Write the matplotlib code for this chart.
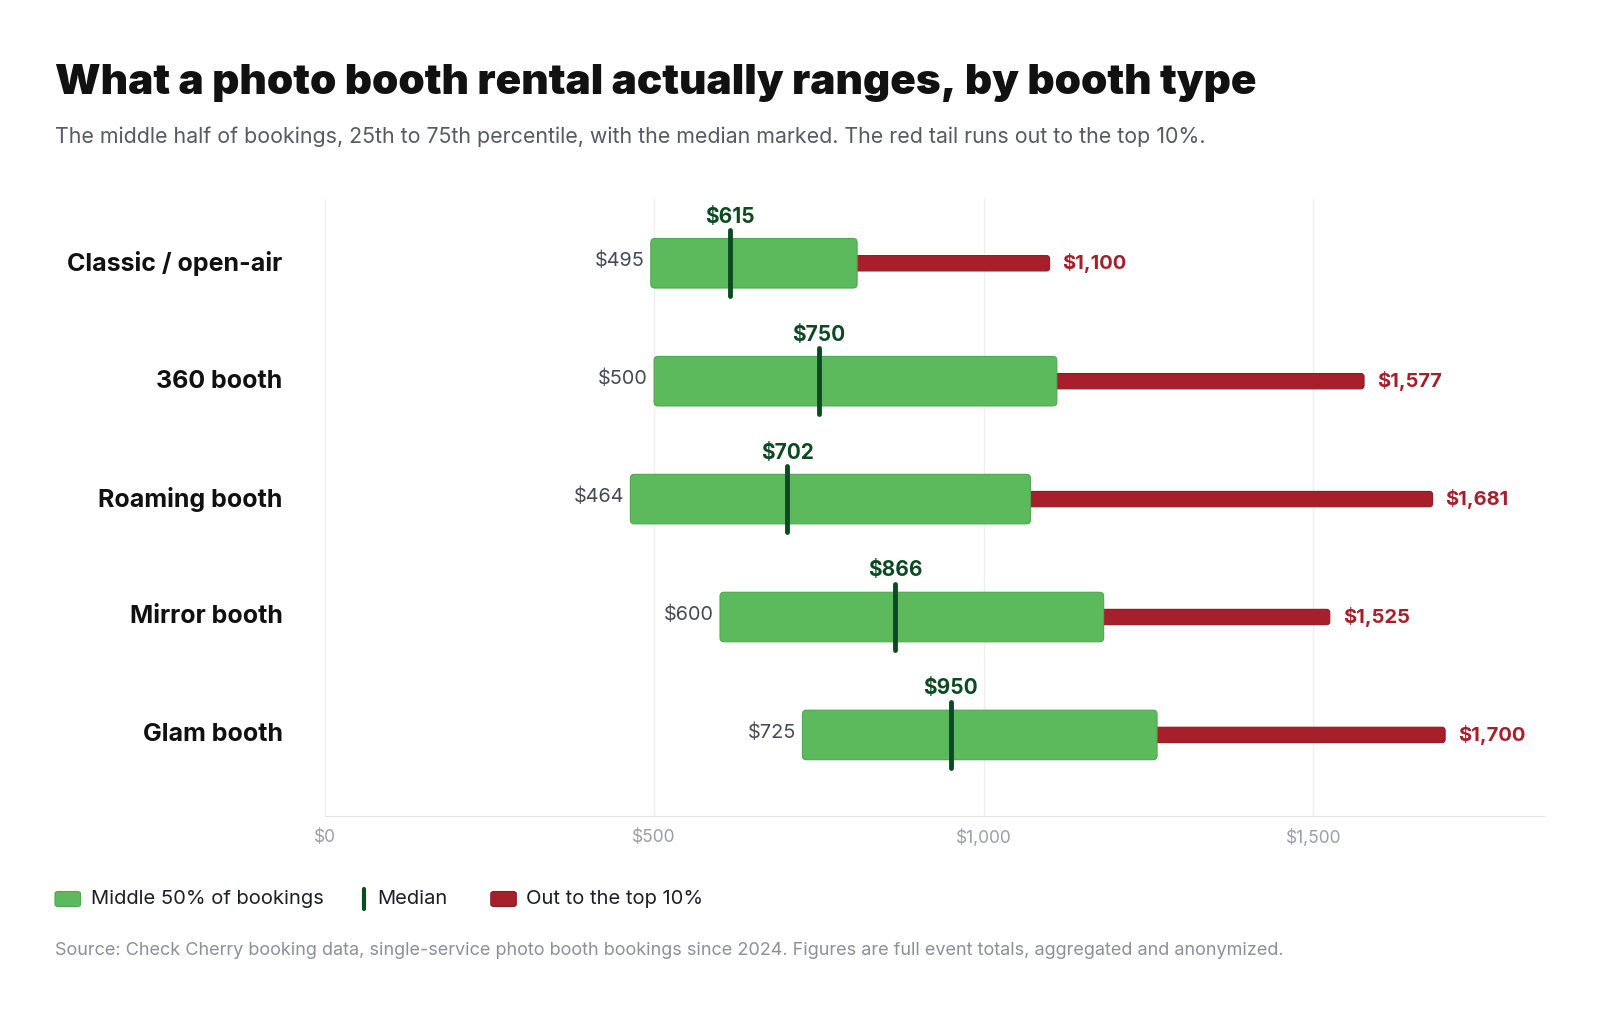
import matplotlib
matplotlib.use("Agg")
import matplotlib.pyplot as plt
from matplotlib.patches import FancyBboxPatch
from matplotlib.lines import Line2D

plt.rcParams['font.family'] = ['Inter', 'DejaVu Sans']

categories = ["Classic / open-air", "360 booth", "Roaming booth", "Mirror booth", "Glam booth"]
p25 = [495, 500, 464, 600, 725]
median = [615, 750, 702, 866, 950]
p75 = [808, 1111, 1071, 1182, 1263]
p90 = [1100, 1577, 1681, 1525, 1700]
xticks = [0, 500, 1000, 1500]
xticklabels = ["$0", "$500", "$1,000", "$1,500"]
legend_labels = ["Middle 50% of bookings", "Median", "Out to the top 10%"]

GREEN = "#5cba5c"
GREEN_EDGE = "#4fa84f"
RED = "#a61f2b"
RED_EDGE = "#8f1a24"
DARK = "#0c4a22"
GRAY = "#444a55"

W, H = 1600, 1021
fig = plt.figure(figsize=(16, 10.21), dpi=100)
L, R, T, B = 324.5, 1544, 199, 816.3
ax = fig.add_axes([L/W, 1-B/H, (R-L)/W, (B-T)/H])

ax.set_xlim(0, 1850)
ax.set_ylim(4.69, -0.545)

xpx = 1850/(R-L)
ypx = (4.69+0.545)/(B-T)
aspect = ypx/xpx

box_h = 0.42
tail_h = 0.13
for i, cat in enumerate(categories):
    tail = FancyBboxPatch((p75[i] - 10, i - tail_h/2), p90[i] - p75[i] + 10, tail_h,
                          boxstyle=f"round,pad=0,rounding_size={3*xpx}",
                          mutation_aspect=aspect, facecolor=RED, edgecolor=RED_EDGE,
                          linewidth=0.8, zorder=2)
    ax.add_patch(tail)
    box = FancyBboxPatch((p25[i], i - box_h/2), p75[i] - p25[i], box_h,
                         boxstyle=f"round,pad=0,rounding_size={4*xpx}",
                         mutation_aspect=aspect, facecolor=GREEN, edgecolor=GREEN_EDGE,
                         linewidth=0.8, zorder=3)
    ax.add_patch(box)
    ax.plot([median[i], median[i]], [i - 0.28, i + 0.28], color=DARK, lw=3.5,
            solid_capstyle='round', zorder=4)
    ax.text(median[i], i - 0.31, f"${median[i]:,}", ha='center', va='bottom',
            fontsize=15, fontweight='bold', color=DARK, zorder=5)
    ax.text(p25[i] - 6*xpx, i - 0.02, f"${p25[i]:,}", ha='right', va='center',
            fontsize=14.3, color=GRAY)
    ax.text(p90[i] + 13*xpx, i, f"${p90[i]:,}", ha='left', va='center',
            fontsize=14.5, fontweight='bold', color=RED)
    fig.text(282.7/W, 1 - (263.3 + 117.85*i)/H, cat, ha='right', va='center',
             fontsize=18, fontweight='bold', color="#111111")

ax.set_xticks(xticks)
ax.set_xticklabels(xticklabels, fontsize=12.5, color="#9a9ea6")
ax.tick_params(axis='x', length=0, pad=9)
ax.set_yticks([])
ax.grid(axis='x', color="#eeeeee", lw=1)
ax.set_axisbelow(True)
for s in ['top', 'right', 'left']:
    ax.spines[s].set_visible(False)
ax.spines['bottom'].set_color("#e3e3e3")

fig.text(55/W, 1 - 82.5/H, "What a photo booth rental actually ranges, by booth type",
         ha='left', va='center', fontsize=30.4, fontweight='black', color="#111111")
fig.text(55/W, 1 - 137/H,
         "The middle half of bookings, 25th to 75th percentile, with the median marked. The red tail runs out to the top 10%.",
         ha='left', va='center', fontsize=15.4, color="#555a63")

# legend (drawn in figure pixel positions)
ly = 899
fig.patches.append(FancyBboxPatch((55/W, 1 - (ly + 7.5)/H), 25.5/W, 15/H,
                                  boxstyle="round,pad=0,rounding_size=0.002",
                                  transform=fig.transFigure, facecolor=GREEN,
                                  edgecolor=GREEN_EDGE, linewidth=0.8))
fig.text(90.8/W, 1 - ly/H, legend_labels[0], ha='left', va='center',
         fontsize=14.5, color="#1c1f2a")
fig.add_artist(Line2D([364.3/W, 364.3/W], [1 - (ly - 10)/H, 1 - (ly + 10)/H],
                      transform=fig.transFigure, color=DARK, lw=3,
                      solid_capstyle='round'))
fig.text(377.6/W, 1 - ly/H, legend_labels[1], ha='left', va='center',
         fontsize=14.5, color="#1c1f2a")
fig.patches.append(FancyBboxPatch((490.8/W, 1 - (ly + 7.5)/H), 25.5/W, 15/H,
                                  boxstyle="round,pad=0,rounding_size=0.002",
                                  transform=fig.transFigure, facecolor=RED,
                                  edgecolor=RED_EDGE, linewidth=0.8))
fig.text(526.5/W, 1 - ly/H, legend_labels[2], ha='left', va='center',
         fontsize=14.5, color="#1c1f2a")

fig.text(55/W, 1 - 950/H,
         "Source: Check Cherry booking data, single-service photo booth bookings since 2024. Figures are full event totals, aggregated and anonymized.",
         ha='left', va='center', fontsize=13, color="#8c9099")

fig.savefig("out.png", dpi=100, facecolor='white')
